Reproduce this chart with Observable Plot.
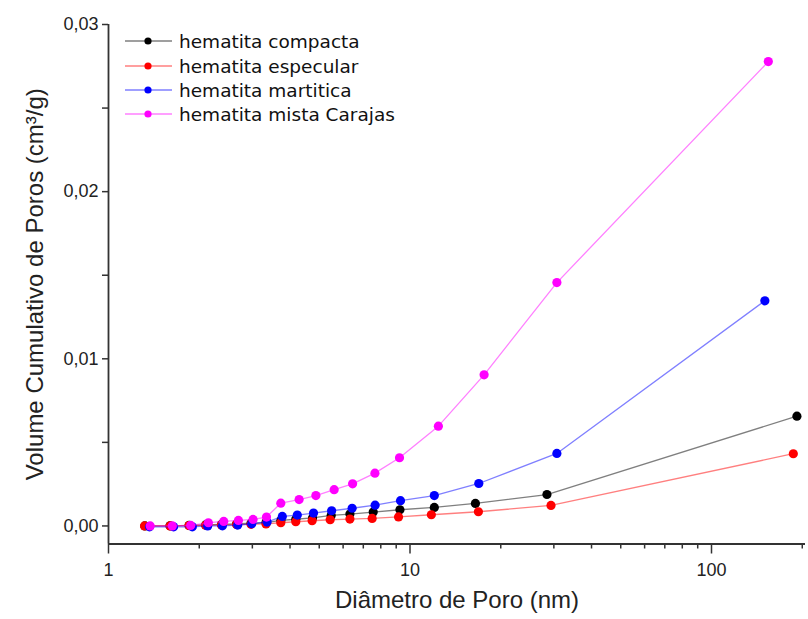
<!DOCTYPE html>
<html><head><meta charset="utf-8">
<script src="https://cdn.jsdelivr.net/npm/d3@7"></script>
<script src="https://cdn.jsdelivr.net/npm/@observablehq/plot@0.6"></script>
<style>
body{margin:0;background:#fff;}
#wrap{position:relative;width:808px;height:619px;overflow:hidden;}
.lg{position:absolute;left:125px;height:24px;display:flex;align-items:center;font-family:"DejaVu Sans",sans-serif;font-size:18.5px;color:#111;white-space:nowrap;}
.lg svg{margin-right:7px;}
</style></head><body><div id="wrap"></div>
<script>
const seriesNames = ["hematita compacta","hematita especular","hematita martitica","hematita mista Carajas"];
const seriesColors = ["#000000","#ff0000","#0000ff","#ff00ff"];

const xCompacta = [1.32,1.60,1.85,2.10,2.37,2.66,2.97,3.33,3.73,4.18,4.75,5.477,6.32,7.55,9.26,12.04,16.48,28.46,192.0];
const yCompacta = [0,0.00001,0.00003,0.00006,0.00009,0.00012,0.00016,0.0002,0.00033,0.0004,0.00048,0.00063,0.00071,0.00083,0.00097,0.00111,0.00135,0.00188,0.00657];

const xEspecular = [1.317,1.60,1.85,2.10,2.37,2.66,2.97,3.33,3.728,4.18,4.735,5.435,6.32,7.49,9.16,11.77,16.86,29.35,186.8];
const yEspecular = [0,0,0.00002,0.00004,0.00006,0.00008,0.0001,0.00012,0.00019,0.00025,0.00031,0.00037,0.00041,0.00045,0.00054,0.00067,0.00085,0.00123,0.00432];

const xMartitica = [1.368,1.644,1.897,2.133,2.387,2.683,2.986,3.357,3.771,4.229,4.786,5.497,6.427,7.66,9.30,12.04,16.91,30.7,150.3];
const yMartitica = [-0.00005,-0.00005,-0.00005,0,0.00001,0.00005,0.00013,0.00023,0.00057,0.00065,0.00077,0.00091,0.00106,0.00124,0.00151,0.00182,0.00254,0.00434,0.01347];

const xMista = [1.375,1.628,1.873,2.144,2.411,2.697,3.016,3.342,3.728,4.288,4.873,5.603,6.451,7.65,9.23,12.42,17.61,30.7,154.3];
const yMista = [0,0,0.00003,0.00019,0.00027,0.00033,0.00039,0.00053,0.00136,0.00158,0.00182,0.00217,0.00252,0.00316,0.00408,0.00597,0.00904,0.01456,0.02778];

const xMajorTicks = [1,10,100];
const xMinorTicks = [2,3,4,5,6,7,8,9,20,30,40,50,60,70,80,90,200];
const yMajorTicks = [0,0.01,0.02,0.03];
const yMinorTicks = [0.005,0.015,0.025];
const xTitle = "Diâmetro de Poro (nm)";
const yTitle = "Volume Cumulativo de Poros (cm³/g)";

const xs = [xCompacta,xEspecular,xMartitica,xMista];
const ys = [yCompacta,yEspecular,yMartitica,yMista];
const data = [];
seriesNames.forEach((s,i)=>xs[i].forEach((x,j)=>data.push({series:s,x,y:ys[i][j]})));

const yMin = -0.00108, xMax = 205;
const seriesMarks = seriesNames.flatMap(s=>{
  const d = data.filter(p=>p.series===s);
  return [
    Plot.line(d,{x:"x",y:"y",stroke:"series",strokeOpacity:0.5,strokeWidth:1.3}),
    Plot.dot(d,{x:"x",y:"y",fill:"series",r:4.6})
  ];
});

const plot = Plot.plot({
  width:808, height:619,
  marginLeft:108, marginRight:3, marginTop:24, marginBottom:75.5,
  style:{fontFamily:"'Liberation Sans', Arial, sans-serif", fontSize:"18px", background:"#fff", color:"#222", overflow:"visible"},
  x:{type:"log", domain:[1,xMax]},
  y:{domain:[yMin,0.03]},
  color:{domain:seriesNames, range:seriesColors},
  marks:[
    Plot.axisX({ticks:xMinorTicks.filter(t=>t<=xMax), tickSize:5, tickFormat:()=>"", label:null, strokeWidth:1.5, stroke:"#333"}),
    Plot.axisX({ticks:xMajorTicks, tickSize:10, tickPadding:9, tickFormat:d=>String(d), label:null, strokeWidth:1.5, stroke:"#333", fill:"#222"}),
    Plot.axisY({ticks:yMinorTicks, tickSize:6, tickFormat:()=>"", label:null, strokeWidth:1.5, stroke:"#333"}),
    Plot.axisY({ticks:yMajorTicks, tickSize:6, tickPadding:4, tickFormat:d=>d.toFixed(2).replace(".",","), label:null, strokeWidth:1.5, stroke:"#333", fill:"#222"}),
    Plot.ruleX([1],{stroke:"#333",strokeWidth:1.8}),
    Plot.ruleY([yMin],{stroke:"#333",strokeWidth:1.8}),
    ...seriesMarks,
    Plot.text([xTitle],{frameAnchor:"bottom", textAnchor:"middle", dy:64, fontSize:24, fill:"#222"}),
    Plot.text([yTitle],{frameAnchor:"left", textAnchor:"middle", dx:-73, rotate:-90, fontSize:24, fill:"#222"})
  ]
});
const wrap = document.getElementById("wrap");
wrap.appendChild(plot);

const rowCenters = [41,66,90,114];
seriesNames.forEach((s,i)=>{
  const row = document.createElement("div");
  row.className = "lg";
  row.style.top = (rowCenters[i]-12)+"px";
  const c = seriesColors[i];
  row.innerHTML = `<svg width="47" height="24"><line x1="0" x2="47" y1="12" y2="12" stroke="${c}" stroke-opacity="0.5" stroke-width="1.3"/><circle cx="23" cy="12" r="3.6" fill="${c}"/></svg><span>${s}</span>`;
  wrap.appendChild(row);
});
</script></body></html>
